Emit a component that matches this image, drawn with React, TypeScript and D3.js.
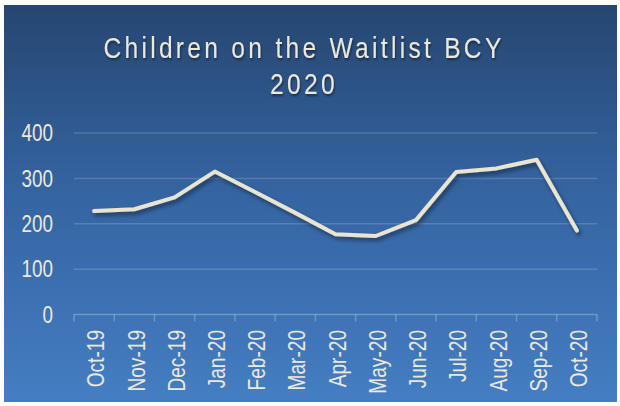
import * as React from 'react';
import * as d3 from 'd3';

// months on the x axis
const months: string[] = [
	'Oct-19', 'Nov-19', 'Dec-19', 'Jan-20', 'Feb-20', 'Mar-20', 'Apr-20',
	'May-20', 'Jun-20', 'Jul-20', 'Aug-20', 'Sep-20', 'Oct-20',
];
// number of children on the waitlist
const waitlist: number[] = [228, 232, 258, 315, 270, 224, 177, 173, 208, 314, 322, 341, 185];
// y axis ticks
const yTicks: number[] = [0, 100, 200, 300, 400];
const titleLines: string[] = ['Children on the Waitlist BCY', '2020'];

const WIDTH = 620;
const HEIGHT = 406;
const TEXT_COLOR = '#ebe8dc';
const FONT = '"Liberation Sans", Arial, sans-serif';

const App = () => {
	const svgRef = React.useRef<SVGSVGElement>(null);

	React.useEffect(() => {
		const svg = d3.select(svgRef.current);
		svg.selectAll('*').remove();

		// gradient background and shadows
		const defs = svg.append('defs');
		const grad = defs
			.append('linearGradient')
			.attr('id', 'bg-grad')
			.attr('x1', 0)
			.attr('y1', 0)
			.attr('x2', 0)
			.attr('y2', 1);
		grad.append('stop').attr('offset', '0%').attr('stop-color', '#264670');
		grad.append('stop').attr('offset', '45%').attr('stop-color', '#3463a0');
		grad.append('stop').attr('offset', '100%').attr('stop-color', '#457ec3');

		const shadow = defs
			.append('filter')
			.attr('id', 'line-shadow')
			.attr('x', '-10%')
			.attr('y', '-10%')
			.attr('width', '130%')
			.attr('height', '140%');
		shadow
			.append('feDropShadow')
			.attr('dx', 2)
			.attr('dy', 3)
			.attr('stdDeviation', 2)
			.attr('flood-color', '#000')
			.attr('flood-opacity', 0.45);

		const textShadow = defs.append('filter').attr('id', 'text-shadow');
		textShadow
			.append('feDropShadow')
			.attr('dx', 1)
			.attr('dy', 2)
			.attr('stdDeviation', 1)
			.attr('flood-color', '#000')
			.attr('flood-opacity', 0.45);

		svg.append('rect').attr('width', WIDTH).attr('height', HEIGHT).attr('fill', '#fff');
		svg
			.append('rect')
			.attr('x', 4)
			.attr('y', 5)
			.attr('width', 613)
			.attr('height', 397)
			.attr('fill', 'url(#bg-grad)');

		// scales
		const x = d3.scaleBand<string>().domain(months).range([74, 597]).padding(0);
		const y = d3.scaleLinear().domain([0, 400]).range([314.5, 133]);

		// horizontal grid lines
		svg
			.append('g')
			.selectAll('line')
			.data(yTicks.filter((t) => t > 0))
			.enter()
			.append('line')
			.attr('x1', 74)
			.attr('x2', 597)
			.attr('y1', (d) => y(d))
			.attr('y2', (d) => y(d))
			.attr('stroke', 'rgba(255,255,255,0.16)')
			.attr('stroke-width', 1.5);

		// x axis line and the ticks between categories
		const axis = svg.append('g');
		axis
			.append('line')
			.attr('x1', 74)
			.attr('x2', 597)
			.attr('y1', y(0))
			.attr('y2', y(0))
			.attr('stroke', 'rgba(255,255,255,0.25)')
			.attr('stroke-width', 1.5);
		const boundaries = months.map((m) => x(m) as number).concat([597]);
		axis
			.selectAll('line.tick')
			.data(boundaries)
			.enter()
			.append('line')
			.classed('tick', true)
			.attr('x1', (d) => d)
			.attr('x2', (d) => d)
			.attr('y1', y(0))
			.attr('y2', y(0) + 7)
			.attr('stroke', 'rgba(255,255,255,0.25)')
			.attr('stroke-width', 1.5);

		// y tick labels
		svg
			.append('g')
			.selectAll('text')
			.data(yTicks)
			.enter()
			.append('text')
			.attr('transform', (d) => `translate(53,${y(d)}) scale(0.82,1)`)
			.attr('text-anchor', 'end')
			.attr('dominant-baseline', 'central')
			.attr('font-family', FONT)
			.attr('font-size', 23)
			.attr('fill', TEXT_COLOR)
			.text((d) => d);

		// x tick labels, rotated
		svg
			.append('g')
			.selectAll('text')
			.data(months)
			.enter()
			.append('text')
			.attr('transform', (d) => `translate(${(x(d) as number) + x.bandwidth() / 2 + 2},330) rotate(-90) scale(0.83,1)`)
			.attr('text-anchor', 'end')
			.attr('dominant-baseline', 'central')
			.attr('font-family', FONT)
			.attr('font-size', 23)
			.attr('fill', TEXT_COLOR)
			.text((d) => d);

		// the waitlist line
		const line = d3
			.line<number>()
			.x((_, i) => (x(months[i]) as number) + x.bandwidth() / 2)
			.y((d) => y(d));
		svg
			.append('path')
			.datum(waitlist)
			.attr('d', line)
			.attr('fill', 'none')
			.attr('stroke', '#e9e5d0')
			.attr('stroke-width', 4)
			.attr('stroke-linejoin', 'round')
			.attr('stroke-linecap', 'round')
			.attr('filter', 'url(#line-shadow)');

		// title in two lines
		svg
			.append('g')
			.selectAll('text')
			.data(titleLines)
			.enter()
			.append('text')
			.attr('transform', (_, i) => `translate(304,${57.5 + i * 36}) scale(0.82,1)`)
			.attr('text-anchor', 'middle')
			.attr('font-family', FONT)
			.attr('font-size', 30)
			.attr('letter-spacing', 4)
			.attr('fill', TEXT_COLOR)
			.attr('filter', 'url(#text-shadow)')
			.text((d) => d);
	}, []);

	return (
		<div style={{ position: 'absolute', left: 0, top: 0 }}>
			<svg ref={svgRef} width={WIDTH} height={HEIGHT} style={{ display: 'block' }} />
		</div>
	);
};

export default App;
